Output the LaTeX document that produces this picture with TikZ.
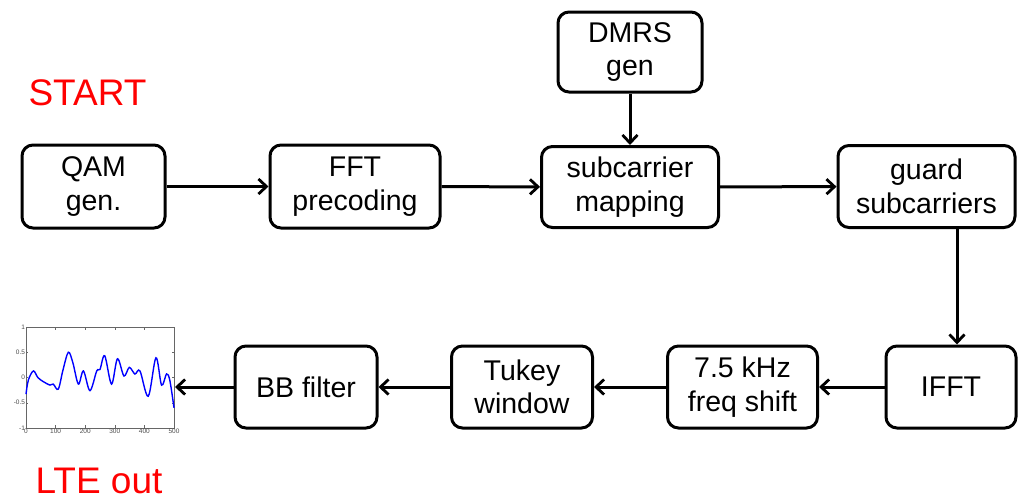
\documentclass[tikz,border=0pt]{standalone}
\usepackage{fontspec}
\setmainfont{Liberation Sans}
\usetikzlibrary{arrows.meta}
\begin{document}
\begin{tikzpicture}[x=1pt,y=-1pt,
  blk/.style={draw, line width=3pt, rounded corners=11pt, align=center,
    inner sep=0pt, font=\fontsize{28.5}{33.5}\selectfont},
  conn/.style={line width=3pt, -{Straight Barb[length=8pt,width=15pt,line width=2.8pt]}},
  lbl/.style={text=red, font=\fontsize{37}{40}\selectfont, inner sep=0pt, anchor=base},
  tick/.style={font=\fontsize{6.5}{7}\selectfont, text=black!70, inner sep=0.8pt}]
\useasboundingbox (0,0) rectangle (1020,499);
% top row
\node[blk, minimum width=143pt, minimum height=83pt] (qam) at (93.5,186.5) {QAM\\gen.};
\node[blk, minimum width=170pt, minimum height=83pt] (fft) at (355,186.5) {FFT\\precoding};
\node[blk, minimum width=177pt, minimum height=81pt] (sub) at (630,187) {subcarrier\\mapping};
\node[blk, minimum width=144pt, minimum height=80pt] (dmrs) at (630,52) {DMRS\\gen};
\node[blk, minimum width=177pt, minimum height=82pt] (guard) at (926.5,186.5) {guard\\subcarriers};
% bottom row
\node[blk, minimum width=130pt, minimum height=82pt] (ifft) at (951,387) {IFFT};
\node[blk, minimum width=150pt, minimum height=82pt] (shift) at (742.5,387) {7.5 kHz\\freq shift};
\node[blk, minimum width=141pt, minimum height=82pt] (tukey) at (522,387) {Tukey\\window};
\node[blk, minimum width=142pt, minimum height=82pt] (bb) at (306,387) {BB filter};
% labels
\node[lbl] (start) at (87.5,105) {START};
\node[lbl] (lte) at (99,493) {LTE out};
% plot
\node[draw=black!60, line width=0.5pt, minimum width=148pt, minimum height=101pt, inner sep=0pt] (plotbox) at (100,377.5) {};
\coordinate (plotR) at (175,387);
\begin{scope}[shift={(26,377.5)}, x=0.296pt, y=50.5pt]
  \foreach \v/\t in {1/1,0.5/0.5,0/0,-0.5/-0.5,-1/-1}{
    \draw[black!60, line width=0.4pt] (0,\v) -- (6,\v);
    \draw[black!60, line width=0.4pt] (500,\v) -- (494,\v);
    \node[tick, anchor=east] at (0,\v) {\t};
  }
  \foreach \u in {0,100,200,300,400,500}{
    \draw[black!60, line width=0.4pt] (\u,-1) -- (\u,-0.94);
    \draw[black!60, line width=0.4pt] (\u,1) -- (\u,0.94);
    \node[tick, anchor=north] at (\u,-1) {\u};
  }
  \draw[blue, line width=1.4pt] plot[smooth, tension=0.55] coordinates {
    (0,-0.33) (8,-0.05) (25,0.13) (40,0.0) (58,-0.08) (81,-0.15) (92,-0.13)
    (109,-0.23) (125,0.15) (143,0.5) (158,0.3) (177,-0.13) (194,0.13)
    (216,-0.26) (239,0.13) (250,0.16) (266,0.43) (289,-0.13) (309,0.37)
    (331,0.03) (349,0.2) (368,0.07) (385,0.13) (413,-0.37) (439,0.39)
    (458,-0.15) (475,0.07) (486,-0.06) (500,-0.6)};
\end{scope}
% connectors
\coordinate (gx) at (957,0);
\draw[conn] (qam) -- (fft);
\draw[conn] (fft) -- (sub);
\draw[conn] (sub) -- (guard);
\draw[conn] (dmrs) -- (sub);
\draw[conn] (guard.south -| gx) -- (ifft.north -| gx);
\draw[conn] (ifft) -- (shift);
\draw[conn] (shift) -- (tukey);
\draw[conn] (tukey) -- (bb);
\draw[conn] (bb.west) -- (plotR);
\end{tikzpicture}
\end{document}
